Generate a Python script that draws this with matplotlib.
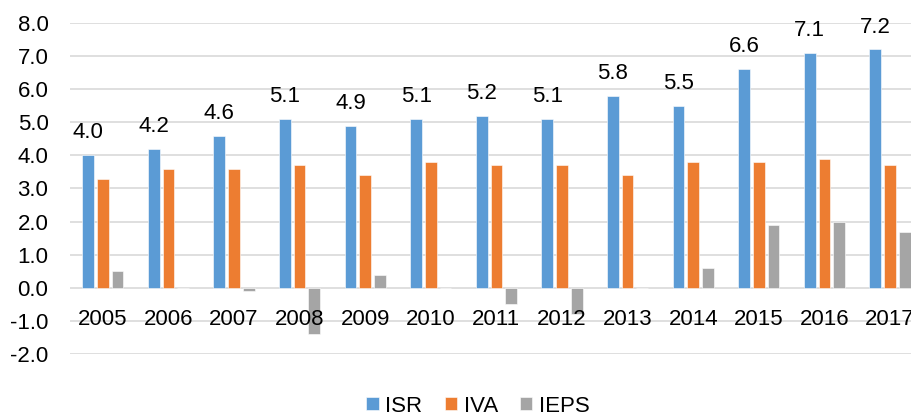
import matplotlib
matplotlib.use("Agg")
import matplotlib.pyplot as plt
import numpy as np

years = ["2005", "2006", "2007", "2008", "2009", "2010", "2011",
         "2012", "2013", "2014", "2015", "2016", "2017"]
isr = [4.0, 4.2, 4.6, 5.1, 4.9, 5.1, 5.2, 5.1, 5.8, 5.5, 6.6, 7.1, 7.2]
iva = [3.3, 3.6, 3.6, 3.7, 3.4, 3.8, 3.7, 3.7, 3.4, 3.8, 3.8, 3.9, 3.7]
ieps = [0.5, 0.0, -0.1, -1.4, 0.4, 0.0, -0.5, -0.8, 0.0, 0.6, 1.9, 2.0, 1.7]
y_ticks = [-2.0, -1.0, 0.0, 1.0, 2.0, 3.0, 4.0, 5.0, 6.0, 7.0, 8.0]

plt.rcParams["font.family"] = ["Liberation Sans", "DejaVu Sans"]

W, H = 912, 413
fig = plt.figure(figsize=(W / 100, H / 100), dpi=100)
# axis spans 70px .. ~923px horizontally (right end runs past the canvas)
left_px, right_px = 70, 70 + 65.6 * 13
top_px, bottom_px = 23, 354
ax = fig.add_axes([left_px / W, 1 - bottom_px / H,
                   (right_px - left_px) / W, (bottom_px - top_px) / H])

x = np.arange(len(years))
bw = 0.178
step = 0.224
colors = ["#5B9BD5", "#ED7D31", "#A5A5A5"]
series = [("ISR", isr), ("IVA", iva), ("IEPS", ieps)]
for i, (name, vals) in enumerate(series):
    ax.bar(x + (i - 1) * step, vals, width=bw, color=colors[i],
           edgecolor="white", linewidth=0.4, label=name, zorder=3)

ax.set_xlim(-0.5, len(years) - 0.5)
ax.set_ylim(-2.0, 8.0)
ax.set_yticks(y_ticks)
ax.set_yticklabels([f"{v:.1f}" for v in y_ticks], fontsize=16)
ax.tick_params(axis="y", length=0, pad=15.5)
ax.set_xticks([])
ax.grid(axis="y", color="#d9d9d9", linewidth=1.2, zorder=0)
for s in ax.spines.values():
    s.set_visible(False)

# year labels just under the zero line
for xi, yr in zip(x, years):
    ax.annotate(yr, (xi, 0), xytext=(0, -26.6), textcoords="offset points",
                ha="center", va="baseline", fontsize=16, zorder=5)

# value labels above ISR bars
for xi, v in zip(x, isr):
    ax.annotate(f"{v:.1f}", (xi - step, v), xytext=(0, 12.2),
                textcoords="offset points", ha="center", va="baseline",
                fontsize=16)

fig.legend(loc="center", bbox_to_anchor=(478 / W, 1 - 406 / H), ncol=3,
           frameon=False, fontsize=16, handlelength=0.55, handleheight=0.55,
           handletextpad=0.3, columnspacing=1.0)

fig.savefig("out.png", dpi=100)
